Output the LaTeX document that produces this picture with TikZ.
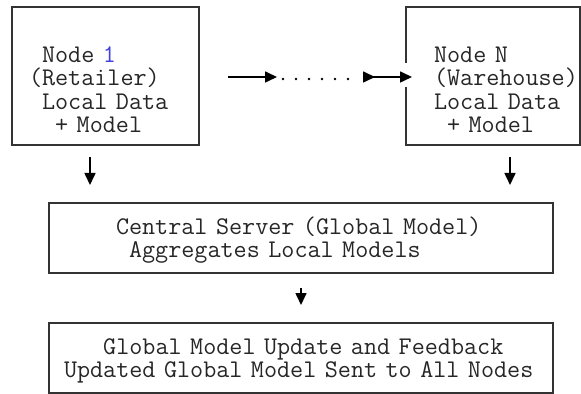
\documentclass[tikz,border=0pt]{standalone}
\usepackage{fontspec}
\usepackage{xcolor}
\usetikzlibrary{arrows.meta}
\definecolor{numblue}{RGB}{64,64,224}

\begin{document}
\begin{tikzpicture}[x=0.5pt,y=-0.5pt,
    box/.style={draw=black!80, line width=0.9pt, align=left, text=black!85,
      font=\fontsize{12.7pt}{11.65pt}\ttfamily},
    arr/.style={line width=0.8pt, -{Triangle[length=6pt,width=5.5pt]}}]
  \useasboundingbox (0,0) rectangle (581,394);
  % the two local nodes
  \node[box, minimum height=69pt, inner xsep=8.5pt, text width=76.5pt] (node1) at (105.5,76)
    {\rule{0pt}{21.5pt}\hphantom{x}Node \textcolor{numblue}{1}\\(Retailer)\\\hphantom{x}Local Data\\\hphantom{xx}+ Model};
  \node[box, minimum height=69pt, inner xsep=14pt, text width=59pt] (nodeN) at (493,76)
    {\rule{0pt}{21.5pt}Node N\\(Warehouse)\\Local~Data\\\hphantom{x}+ Model};
  \fill[white] (403,63) rectangle (409,87);
  % server and feedback
  \node[box, minimum height=35pt, inner xsep=33.5pt, text width=185pt] (server) at (301,238)
    {\rule{0pt}{11pt}Central Server (Global Model)\\\hphantom{x}Aggregates Local Models};
  \node[box, minimum height=35pt, inner xsep=7.5pt, text width=237pt] (update) at (301,358)
    {\rule{0pt}{11pt}\hphantom{xxx}Global Model Update and Feedback\\Updated Global Model Sent to All Nodes};
  % arrows
  \coordinate (h1a) at (228,77);
  \coordinate (h1b) at (277,77);
  \coordinate (h2a) at (363,77);
  \coordinate (h2b) at (412,77);
  \draw[arr] (h1a) -- (h1b);
  \foreach \i in {0,...,5}
    \fill (283+13*\i,79) circle (0.7pt);
  \draw[arr, {Triangle[reversed,length=6pt,width=5.5pt]}-{Triangle[length=6pt,width=5.5pt]}] (h2a) -- (h2b);
  \coordinate (d1a) at (90,157);
  \coordinate (d1b) at (90,185);
  \coordinate (d2a) at (510,157);
  \coordinate (d2b) at (510,185);
  \coordinate (d3a) at (301,288);
  \coordinate (d3b) at (301,305);
  \draw[arr] (d1a) -- (d1b);
  \draw[arr] (d2a) -- (d2b);
  \draw[arr] (d3a) -- (d3b);
\end{tikzpicture}
\end{document}
